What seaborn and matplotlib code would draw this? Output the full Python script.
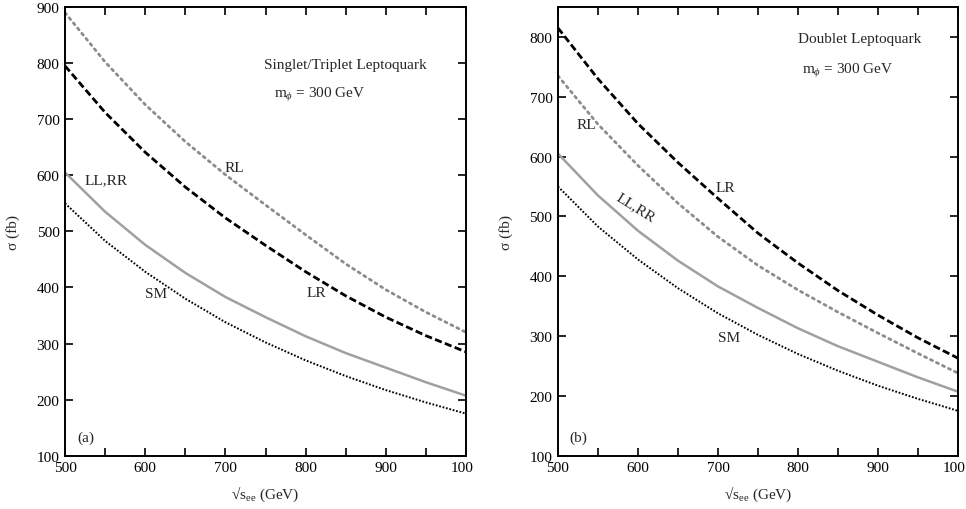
import numpy as np
import pandas as pd
import matplotlib
matplotlib.use("Agg")
import matplotlib.pyplot as plt
import matplotlib.transforms as mtransforms
import seaborn as sns

# sqrt(s_ee) in GeV
energy = [500, 550, 600, 650, 700, 750, 800, 850, 900, 950, 1000]

# cross sections in fb (same SM and LL,RR in both panels)
sm = [550, 483, 428, 380, 338, 302, 270, 242, 217, 195, 175]
ll_rr = [605, 535, 476, 426, 383, 347, 313, 283, 257, 231, 207]

# (a) singlet/triplet leptoquark
rl_a = [890, 802, 726, 660, 601, 547, 494, 442, 396, 356, 320]
lr_a = [795, 712, 641, 579, 524, 475, 428, 385, 347, 314, 285]

# (b) doublet leptoquark
lr_b = [815, 730, 655, 590, 530, 472, 422, 376, 335, 297, 263]
rl_b = [735, 654, 585, 522, 466, 418, 377, 340, 305, 271, 238]

x_ticks = [500, 550, 600, 650, 700, 750, 800, 850, 900, 950, 1000]
x_labels = ["500", "", "600", "", "700", "", "800", "", "900", "", "100"]

sns.set_theme(style="ticks")
plt.rcParams["font.family"] = ["Liberation Serif", "DejaVu Serif"]
plt.rcParams["mathtext.fontset"] = "custom"
plt.rcParams["mathtext.rm"] = "Liberation Serif"
plt.rcParams["mathtext.it"] = "Liberation Serif:italic"
fs = 11
plt.rcParams["font.size"] = fs

fig = plt.figure(figsize=(9.66, 5.10), dpi=100)
ax_a = fig.add_axes([0.0673, 0.1045, 0.4151, 0.8798])
ax_b = fig.add_axes([0.5776, 0.1045, 0.4141, 0.8798])

gray = "#8c8c8c"
styles = {
    "RL": dict(color=gray, linewidth=2.0, linestyle=(0, (0.8, 1.6)), dash_capstyle="round"),
    "LR": dict(color="black", linewidth=2.0, linestyle=(0, (2.6, 1.2))),
    "LL,RR": dict(color="#a0a0a0", linewidth=1.8, linestyle="-"),
    "SM": dict(color="black", linewidth=1.4, linestyle=(0, (0.9, 0.9))),
}

panels = [
    (ax_a, {"RL": rl_a, "LR": lr_a, "LL,RR": ll_rr, "SM": sm}),
    (ax_b, {"RL": rl_b, "LR": lr_b, "LL,RR": ll_rr, "SM": sm}),
]

# nudge the last (clipped "100") tick label a little to the left
shift = mtransforms.ScaledTranslation(-4 / 100, 0, fig.dpi_scale_trans)

for ax, curves in panels:
    for name, vals in curves.items():
        df = pd.DataFrame({"energy": energy, "sigma": vals})
        sns.lineplot(data=df, x="energy", y="sigma", ax=ax, **styles[name])
    ax.set_xlim(500, 1000)
    ax.set_xticks(x_ticks)
    ax.set_xticklabels(x_labels)
    ax.tick_params(direction="in", top=True, right=True, length=6, width=1.2,
                   labelsize=fs, colors="black", pad=4)
    ax.get_xticklabels()[-1].set_transform(ax.get_xticklabels()[-1].get_transform() + shift)
    ax.set_xlabel(r"√s$_{\rm ee}$ (GeV)", fontsize=fs, labelpad=7)
    ax.set_ylabel("σ (fb)", fontsize=fs, labelpad=12)
    for sp in ax.spines.values():
        sp.set_linewidth(1.4)
        sp.set_color("black")

ax_a.set_ylim(100, 900)
ax_a.set_yticks(range(100, 901, 100))
ax_b.set_ylim(100, 850)
ax_b.set_yticks(range(100, 801, 100))

# panel (a) annotations
ax_a.text(849, 797, "Singlet/Triplet Leptoquark", ha="center", va="center", fontsize=fs)
ax_a.text(818, 745, r"m$_\phi$ = 300 GeV", ha="center", va="center", fontsize=fs)
ax_a.text(711, 613, "RL", ha="center", va="center", fontsize=fs)
ax_a.text(551, 593, "LL,RR", ha="center", va="center", fontsize=fs)
ax_a.text(613, 389, "SM", ha="center", va="center", fontsize=fs)
ax_a.text(813, 391, "LR", ha="center", va="center", fontsize=fs)
ax_a.text(526, 133, "(a)", ha="center", va="center", fontsize=fs)

# panel (b) annotations
ax_b.text(877, 798, "Doublet Leptoquark", ha="center", va="center", fontsize=fs)
ax_b.text(862, 745, r"m$_\phi$ = 300 GeV", ha="center", va="center", fontsize=fs)
ax_b.text(535, 653, "RL", ha="center", va="center", fontsize=fs)
ax_b.text(709, 548, "LR", ha="center", va="center", fontsize=fs)
ax_b.text(597, 516, "LL,RR", ha="center", va="center", fontsize=fs, rotation=-32)
ax_b.text(714, 298, "SM", ha="center", va="center", fontsize=fs)
ax_b.text(526, 131, "(b)", ha="center", va="center", fontsize=fs)

fig.savefig("out.png", dpi=100, facecolor="white")
